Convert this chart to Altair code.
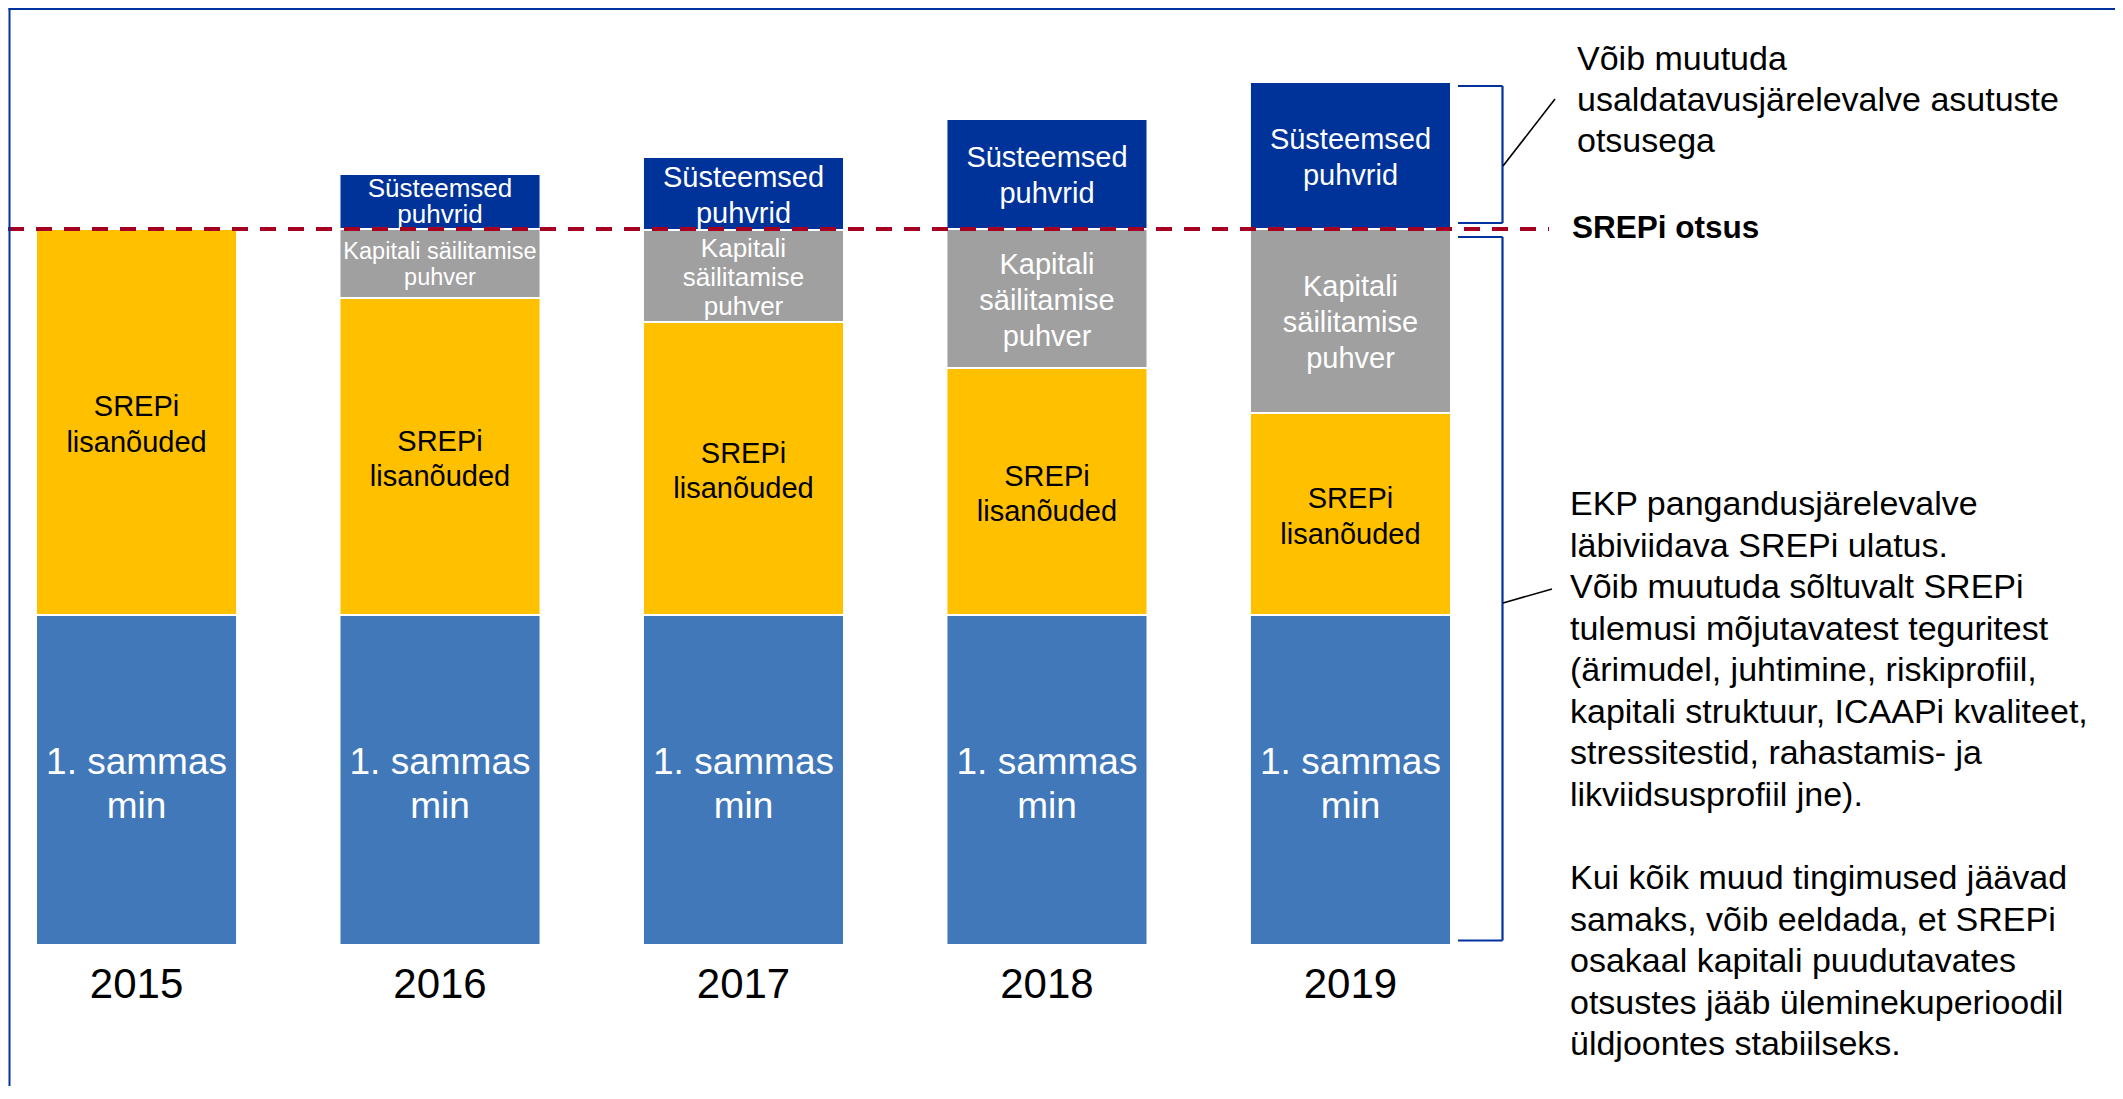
import altair as alt
import pandas as pd

# ---------------- data (schematic units) ----------------
years = ["2015", "2016", "2017", "2018", "2019"]
pillar1_min = [33.0, 33.0, 33.0, 33.0, 33.0]
srep_add = [38.6, 31.7, 29.3, 24.7, 20.2]
conservation_buffer = [0.0, 6.9, 9.2, 13.9, 18.4]
systemic_buffers = [0.0, 5.5, 7.3, 11.0, 14.7]

labels_p1 = ["1. sammas\nmin"] * 5
labels_p2r = ["SREPi\nlisanõuded"] * 5
labels_ccb = ["", "Kapitali säilitamise\npuhver", "Kapitali\nsäilitamise\npuhver",
              "Kapitali\nsäilitamise\npuhver", "Kapitali\nsäilitamise\npuhver"]
labels_sys = ["", "Süsteemsed\npuhvrid", "Süsteemsed\npuhvrid",
              "Süsteemsed\npuhvrid", "Süsteemsed\npuhvrid"]

ann_top = "Võib muutuda\nusaldatavusjärelevalve asutuste\notsusega"
ann_srep = "SREPi otsus"
ann_bottom_1 = ("EKP pangandusjärelevalve\nläbiviidava SREPi ulatus.\n"
                "Võib muutuda sõltuvalt SREPi\ntulemusi mõjutavatest teguritest\n"
                "(ärimudel, juhtimine, riskiprofiil,\nkapitali struktuur, ICAAPi kvaliteet,\n"
                "stressitestid, rahastamis- ja\nlikviidsusprofiil jne).")
ann_bottom_2 = ("Kui kõik muud tingimused jäävad\nsamaks, võib eeldada, et SREPi\n"
                "osakaal kapitali puudutavates\notsustes jääb üleminekuperioodil\n"
                "üldjoontes stabiilseks.")

# ---------------- styles ----------------
FONT = "Liberation Sans"
seg_order = ["p1", "p2r", "ccb", "sys"]
seg_fill = ["#4178b9", "#ffc000", "#a0a0a0", "#003399"]
seg_text = {"p1": "white", "p2r": "black", "ccb": "white", "sys": "white"}
# (font size, line height, extra dy) per segment / year
style = {
    "p1": [(37, 44, 5)] * 5,
    "p2r": [(29, 35.5, 3)] * 5,
    "ccb": [(29, 36, 2), (23.5, 26, 1), (26, 29, 2), (29, 36, 2), (29, 36, 2)],
    "sys": [(29, 36, 2), (26, 26, 0), (29, 36, 2), (29, 36, 2), (29, 36, 2)],
}

rows = []
for i, yr in enumerate(years):
    base = 0.0
    for seg, vals, labs in [("p1", pillar1_min, labels_p1), ("p2r", srep_add, labels_p2r),
                            ("ccb", conservation_buffer, labels_ccb), ("sys", systemic_buffers, labels_sys)]:
        v = vals[i]
        if v > 0:
            fs, lh, extra = style[seg][i]
            n = labs[i].count("\n") + 1
            rows.append(dict(year=yr, seg=seg, y0=base, y1=base + v, mid=base + v / 2,
                             label=labs[i], tc=seg_text[seg], fs=fs, lh=lh,
                             dy=round(-(n - 1) * lh / 2 + extra, 2)))
        base += v
df = pd.DataFrame(rows)

srep_level = pillar1_min[0] + srep_add[0]
top2019 = pillar1_min[4] + srep_add[4] + conservation_buffer[4] + systemic_buffers[4]

W, H = 2107, 1078
xscale = alt.Scale(domain=years, range=[28, 1443], paddingInner=0.3375, paddingOuter=0)
yscale = alt.Scale(domain=[-14.1, 93.7], nice=False, zero=False)
one = pd.DataFrame({"a": [0]})

bars = alt.Chart(df).mark_bar(stroke="white", strokeWidth=2).encode(
    x=alt.X("year:N", scale=xscale, axis=None),
    y=alt.Y("y0:Q", scale=yscale, axis=None),
    y2="y1:Q",
    color=alt.Color("seg:N", scale=alt.Scale(domain=seg_order, range=seg_fill), legend=None),
)

label_layers = []
for (lh, dy, tc), sub in df.groupby(["lh", "dy", "tc"]):
    label_layers.append(
        alt.Chart(sub).mark_text(font=FONT, lineBreak="\n", lineHeight=float(lh), align="center",
                                 baseline="middle", color=tc, dy=float(dy)).encode(
            x=alt.X("year:N", scale=xscale, axis=None),
            y=alt.Y("mid:Q", axis=None),
            text="label:N",
            size=alt.Size("fs:Q", scale=None, legend=None),
        )
    )

year_labels = alt.Chart(pd.DataFrame({"year": years})).mark_text(
    font=FONT, fontSize=42, baseline="middle", align="center", color="black").encode(
    x=alt.X("year:N", scale=xscale, axis=None),
    y=alt.datum(-3.95),
    text="year:N",
)

dash = alt.Chart(one).mark_rule(color="#a50021", strokeWidth=4, strokeDash=[16, 12]).encode(
    x=alt.value(0), x2=alt.value(1541), y=alt.datum(srep_level))

BR = "#0033a0"
def rule(x1, x2, y1, y2, color, w):
    enc = dict(x=alt.value(x1), y=alt.datum(y1))
    if x2 is not None:
        enc["x2"] = alt.value(x2)
    if y2 is not None:
        enc["y2"] = alt.datum(y2)
    return alt.Chart(one).mark_rule(color=color, strokeWidth=w).encode(**enc)

bx1, bx2 = 1450, 1494.5
up_top, up_bot = top2019 - 0.4, srep_level + 0.6
lo_top, lo_bot = srep_level - 0.8, 0.45
brackets = [
    rule(bx1, bx2, up_top, None, BR, 2.2),
    rule(bx2, None, up_top, up_bot, BR, 2.2),
    rule(bx1, bx2, up_bot, None, BR, 2.2),
    rule(bx1, bx2, lo_top, None, BR, 2.2),
    rule(bx2, None, lo_top, lo_bot, BR, 2.2),
    rule(bx1, bx2, lo_bot, None, BR, 2.2),
    rule(bx2 + 0.5, 1547, 77.9, 84.6, "black", 1.6),
    rule(bx2 + 0.5, 1544, 34.2, 35.6, "black", 1.6),
]

def note(text, x, yv, size, lh, weight="normal", baseline="alphabetic"):
    return alt.Chart(pd.DataFrame({"t": [text]})).mark_text(
        font=FONT, fontSize=size, fontWeight=weight, lineBreak="\n", lineHeight=lh,
        align="left", baseline=baseline, color="black").encode(
        x=alt.value(x), y=alt.datum(yv), text="t:N")

txt_top = note(ann_top, 1569, 87.5, 34, 41)
txt_srep = note(ann_srep, 1564, srep_level, 31.5, 36, weight="bold", baseline="middle")
txt_bottom_1 = note(ann_bottom_1, 1562, 43.0, 34, 41.5)
txt_bottom_2 = note(ann_bottom_2, 1562, 5.57, 34, 41.5)

frame_top = alt.Chart(one).mark_rule(color=BR, strokeWidth=2).encode(
    x=alt.value(0.5), x2=alt.value(W), y=alt.value(1))
frame_left = alt.Chart(one).mark_rule(color=BR, strokeWidth=2).encode(
    x=alt.value(1.5), y=alt.value(0), y2=alt.value(H))

chart = alt.layer(
    bars, *label_layers, year_labels, dash, *brackets, txt_top, txt_srep, txt_bottom_1,
    txt_bottom_2, frame_top, frame_left,
).resolve_scale(color="independent", size="independent").properties(
    width=W, height=H, padding=0, autosize=alt.AutoSizeParams(type="none"),
    background="white",
).configure_view(stroke=None)

chart.save("out.html", embed_options={"renderer": "svg", "actions": False})
